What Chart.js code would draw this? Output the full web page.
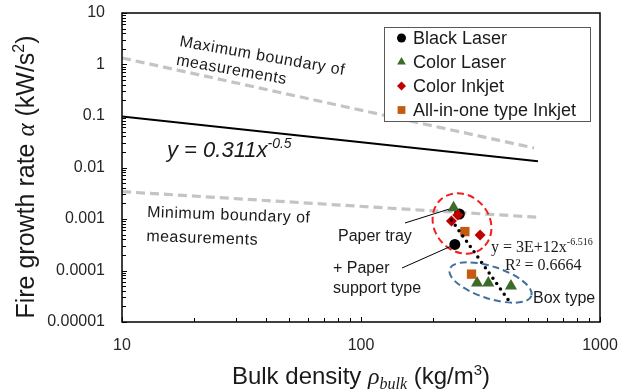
<!DOCTYPE html>
<html>
<head>
<meta charset="utf-8">
<title>Fire growth rate vs bulk density</title>
<script src="https://cdn.jsdelivr.net/npm/chart.js@4.4.1/dist/chart.umd.min.js"></script>
<style>
  html, body { margin: 0; padding: 0; background: #fff; }
  #wrap { width: 633px; height: 392px; }
</style>
</head>
<body>
<div id="wrap"><canvas id="chart" width="633" height="392"></canvas></div>
<script>
// ==========================================================================
// Fire growth rate alpha against bulk density, log-log scatter with fits
// ==========================================================================

const SANS = '"Liberation Sans", Arial, sans-serif';
const SERIF = '"Liberation Serif", "Times New Roman", serif';
const INK = '#1a1a1a';

// Axis ticks (log scales)
const X_TICKS = [10, 100, 1000];
const X_TICK_LABELS = ['10', '100', '1000'];
const Y_TICKS = [0.00001, 0.0001, 0.001, 0.01, 0.1, 1, 10];
const Y_TICK_LABELS = ['0.00001', '0.0001', '0.001', '0.01', '0.1', '1', '10'];

// Measured printers: bulk density (kg/m3) / alpha (kW/s2)
const BLACK_LASER_X = [258, 247];
const BLACK_LASER_Y = [0.00125, 0.00032];
const COLOR_LASER_X = [244, 306, 341, 424];
const COLOR_LASER_Y = [0.00166, 0.000057, 0.000057, 0.00005];
const COLOR_INKJET_X = [254, 239, 315];
const COLOR_INKJET_Y = [0.0012, 0.00091, 0.00049];
const AIO_INKJET_X = [272, 290];
const AIO_INKJET_Y = [0.00057, 0.000085];

// Boundaries of the measurement database
const MAX_BOUND_X = [10, 530];
const MAX_BOUND_Y = [1.34, 0.0239];
const MIN_BOUND_X = [10, 550];
const MIN_BOUND_Y = [0.0034, 0.00108];

// Design correlation y = 0.311 x^-0.5
const FIT_X = [10, 550];
const FIT_COEF = 0.311;
const FIT_EXP = -0.5;

// Power trendline through the printer data
const TREND_COEF = 3e12;
const TREND_EXP = -6.516;
const TREND_R2 = '0.6664';

const pts = (xs, ys) => xs.map((x, i) => ({ x, y: ys[i] }));
const powerLine = (xs, c, e) => xs.map(x => ({ x, y: c * Math.pow(x, e) }));

const ALL_X = [...BLACK_LASER_X, ...COLOR_LASER_X, ...COLOR_INKJET_X, ...AIO_INKJET_X];
const TREND_X = [Math.min(...ALL_X), Math.max(...ALL_X)];

// major + minor ticks (2..9 per decade)
function logTicks(majors) {
  const out = [];
  majors.forEach((v, i) => {
    out.push({ value: v, major: true });
    if (i < majors.length - 1) {
      for (let m = 2; m <= 9; m++) out.push({ value: v * m, major: false });
    }
  });
  return out;
}

function drawRuns(ctx, runs, x, y, align) {
  let w = 0;
  runs.forEach(r => { ctx.font = r.font; r.w = ctx.measureText(r.text).width; w += r.w; });
  let cx = align === 'center' ? x - w / 2 : x;
  runs.forEach(r => {
    ctx.font = r.font;
    ctx.fillText(r.text, cx, y + (r.dy || 0));
    cx += r.w;
  });
}

function marker(ctx, style, x, y, r, color) {
  ctx.fillStyle = color;
  ctx.beginPath();
  if (style === 'circle') {
    ctx.arc(x, y, r, 0, Math.PI * 2);
  } else if (style === 'triangle') {
    ctx.moveTo(x, y - r);
    ctx.lineTo(x + r * 0.866, y + r * 0.5);
    ctx.lineTo(x - r * 0.866, y + r * 0.5);
    ctx.closePath();
  } else if (style === 'rectRot') {
    ctx.moveTo(x, y - r); ctx.lineTo(x + r, y); ctx.lineTo(x, y + r); ctx.lineTo(x - r, y);
    ctx.closePath();
  } else {
    const s = r * Math.SQRT1_2;
    ctx.rect(x - s, y - s, 2 * s, 2 * s);
  }
  ctx.fill();
}

// plot frame + inside tick marks
const frame = {
  id: 'frame',
  afterDatasetsDraw(chart) {
    const { ctx, chartArea: a, scales: { x, y } } = chart;
    ctx.save();
    ctx.strokeStyle = '#000';
    ctx.lineWidth = 1;
    ctx.beginPath();
    x.ticks.forEach(t => {
      const px = Math.round(x.getPixelForValue(t.value)) + 0.5;
      ctx.moveTo(px, a.bottom);
      ctx.lineTo(px, a.bottom - (t.major ? 5 : 4));
    });
    y.ticks.forEach(t => {
      const py = Math.round(y.getPixelForValue(t.value)) + 0.5;
      ctx.moveTo(a.left, py);
      ctx.lineTo(a.left + (t.major ? 5 : 4), py);
    });
    ctx.stroke();
    ctx.lineWidth = 1.5;
    ctx.strokeRect(a.left, a.top, a.right - a.left, a.bottom - a.top);
    ctx.restore();
  }
};

// ellipses, leader lines, labels and the legend box
const notes = {
  id: 'notes',
  afterDatasetsDraw(chart) {
    const { ctx, scales: { x, y } } = chart;
    const at = (dx, dy) => [x.getPixelForValue(dx), y.getPixelForValue(dy)];
    ctx.save();

    // groups
    ctx.setLineDash([7, 4]);
    ctx.lineWidth = 2;
    ctx.strokeStyle = '#f01e1e';
    ctx.beginPath();
    ctx.ellipse(462, 223.5, 32, 27.5, 50 * Math.PI / 180, 0, Math.PI * 2);
    ctx.stroke();
    ctx.strokeStyle = '#41719c';
    ctx.beginPath();
    ctx.ellipse(490.5, 282.5, 43, 16, 18 * Math.PI / 180, 0, Math.PI * 2);
    ctx.stroke();
    ctx.setLineDash([]);

    // leader lines to the tray / support examples
    const lead = (x0, y0, p) => {
      const dx = p[0] - x0, dy = p[1] - y0, d = Math.hypot(dx, dy);
      ctx.moveTo(x0, y0);
      ctx.lineTo(p[0] - dx / d * 5, p[1] - dy / d * 5);
    };
    ctx.strokeStyle = '#000';
    ctx.lineWidth = 1;
    ctx.beginPath();
    lead(405, 223, at(COLOR_LASER_X[0], COLOR_LASER_Y[0]));
    lead(402, 268, at(BLACK_LASER_X[1], BLACK_LASER_Y[1]));
    ctx.stroke();

    ctx.fillStyle = INK;
    ctx.textAlign = 'left';
    ctx.textBaseline = 'alphabetic';

    ctx.save();
    ctx.letterSpacing = '0.5px';
    ctx.translate(179, 46);
    ctx.rotate(10 * Math.PI / 180);
    ctx.font = `16px ${SANS}`;
    ctx.fillText('Maximum boundary of', 0, 0);
    ctx.fillText('measurements', 0, 19);
    ctx.restore();

    ctx.save();
    ctx.letterSpacing = '0.5px';
    ctx.translate(147, 217);
    ctx.rotate(2 * Math.PI / 180);
    ctx.font = `16px ${SANS}`;
    ctx.fillText('Minimum boundary of', 0, 0);
    ctx.fillText('measurements', 0, 24);
    ctx.restore();

    drawRuns(ctx, [
      { text: `y = ${FIT_COEF}x`, font: `italic 22px ${SANS}` },
      { text: `${FIT_EXP}`, font: `italic 14px ${SANS}`, dy: -9 },
    ], 167, 157, 'left');

    ctx.font = `16px ${SANS}`;
    ctx.fillText('Paper tray', 338, 241);
    ctx.fillText('+ Paper', 333, 273);
    ctx.fillText('support type', 333, 293);
    ctx.fillText('Box type', 533, 303);

    const coef = TREND_COEF.toExponential(0).toUpperCase();
    drawRuns(ctx, [
      { text: `y = ${coef}x`, font: `16px ${SERIF}` },
      { text: `${TREND_EXP}`, font: `10px ${SERIF}`, dy: -7 },
    ], 491, 252, 'left');
    ctx.font = `16px ${SERIF}`;
    ctx.fillText(`R² = ${TREND_R2}`, 505, 270);

    // legend
    ctx.fillStyle = '#fff';
    ctx.fillRect(384.5, 27.5, 206, 94);
    ctx.strokeStyle = '#595959';
    ctx.lineWidth = 1;
    ctx.strokeRect(384.5, 27.5, 206, 94);
    ctx.textBaseline = 'middle';
    ctx.font = `18px ${SANS}`;
    chart.data.datasets.filter(d => d.inLegend).forEach((d, i) => {
      const cy = 38 + i * 24;
      marker(ctx, d.pointStyle, 401.5, cy, d.legendRadius, d.backgroundColor);
      ctx.fillStyle = INK;
      ctx.fillText(d.label, 413, cy + 1);
    });

    ctx.restore();
  }
};

// axis titles with greek symbols and super/subscripts
const titles = {
  id: 'titles',
  afterDraw(chart) {
    const { ctx, chartArea: a } = chart;
    ctx.save();
    ctx.fillStyle = INK;
    ctx.textAlign = 'left';
    ctx.textBaseline = 'alphabetic';
    drawRuns(ctx, [
      { text: 'Bulk density ', font: `24px ${SANS}` },
      { text: 'ρ', font: `italic 24px ${SERIF}` },
      { text: 'bulk', font: `italic 16px ${SERIF}`, dy: 5 },
      { text: ' (kg/m', font: `24px ${SANS}` },
      { text: '3', font: `15px ${SANS}`, dy: -9 },
      { text: ')', font: `24px ${SANS}` },
    ], (a.left + a.right) / 2, 384, 'center');
    ctx.translate(34, 177);
    ctx.rotate(-Math.PI / 2);
    drawRuns(ctx, [
      { text: 'Fire growth rate ', font: `25px ${SANS}` },
      { text: 'α', font: `italic 25px ${SERIF}` },
      { text: ' (kW/s', font: `25px ${SANS}` },
      { text: '2', font: `16px ${SANS}`, dy: -10 },
      { text: ')', font: `25px ${SANS}` },
    ], 0, 0, 'center');
    ctx.restore();
  }
};

const markerSet = (label, xs, ys, style, radius, color, order, legendRadius) => ({
  label, data: pts(xs, ys), pointStyle: style, pointRadius: radius,
  backgroundColor: color, borderColor: color, borderWidth: 0,
  order, inLegend: true, legendRadius,
});

const lineSet = (label, data, color, width, dash, order, cap) => ({
  label, data, showLine: true, pointRadius: 0,
  borderColor: color, borderWidth: width, borderDash: dash,
  borderCapStyle: cap || 'butt', order,
});

new Chart(document.getElementById('chart'), {
  type: 'scatter',
  data: {
    datasets: [
      lineSet('Maximum boundary', pts(MAX_BOUND_X, MAX_BOUND_Y), '#c4c4c4', 3.2, [9, 5], 7),
      lineSet('Minimum boundary', pts(MIN_BOUND_X, MIN_BOUND_Y), '#c4c4c4', 3.2, [9, 5], 7),
      lineSet('Design fit', powerLine(FIT_X, FIT_COEF, FIT_EXP), '#000', 2, [], 6),
      markerSet('Black Laser', BLACK_LASER_X, BLACK_LASER_Y, 'circle', 5.5, '#000000', 5, 4.5),
      markerSet('Color Laser', COLOR_LASER_X, COLOR_LASER_Y, 'triangle', 7, '#3d6b2a', 4, 5),
      markerSet('Color Inkjet', COLOR_INKJET_X, COLOR_INKJET_Y, 'rectRot', 5.5, '#c00000', 3, 4.5),
      markerSet('All-in-one type Inkjet', AIO_INKJET_X, AIO_INKJET_Y, 'rect', 6.6, '#c55a11', 2, 5.5),
      lineSet('Power trend', powerLine(TREND_X, TREND_COEF, TREND_EXP), '#000', 3.5, [0, 6.5], 1, 'round'),
    ]
  },
  options: {
    responsive: false,
    animation: false,
    devicePixelRatio: 1,
    events: [],
    layout: { padding: { left: 0, top: 13, right: 33, bottom: 0 } },
    plugins: {
      legend: { display: false },
      tooltip: { enabled: false },
    },
    scales: {
      x: {
        type: 'logarithmic',
        min: 10, max: 1000,
        afterBuildTicks: (s) => { s.ticks = logTicks(X_TICKS); },
        afterFit: (s) => { s.height = 70; s.paddingLeft = 0; s.paddingRight = 0; },
        grid: { display: false },
        border: { display: false },
        ticks: {
          autoSkip: false, maxRotation: 0, minRotation: 0, padding: 6,
          color: '#262626', font: { family: SANS, size: 16 },
          callback: (v) => { const i = X_TICKS.indexOf(v); return i >= 0 ? X_TICK_LABELS[i] : ''; },
        },
      },
      y: {
        type: 'logarithmic',
        min: 0.00001, max: 10,
        afterBuildTicks: (s) => { s.ticks = logTicks(Y_TICKS); },
        afterFit: (s) => { s.width = 122; s.paddingTop = 0; s.paddingBottom = 0; },
        grid: { display: false },
        border: { display: false },
        ticks: {
          autoSkip: false, padding: 9,
          color: '#262626', font: { family: SANS, size: 16 },
          callback: (v) => { const i = Y_TICKS.indexOf(v); return i >= 0 ? Y_TICK_LABELS[i] : ''; },
        },
      },
    },
  },
  plugins: [frame, notes, titles],
});
</script>
</body>
</html>
